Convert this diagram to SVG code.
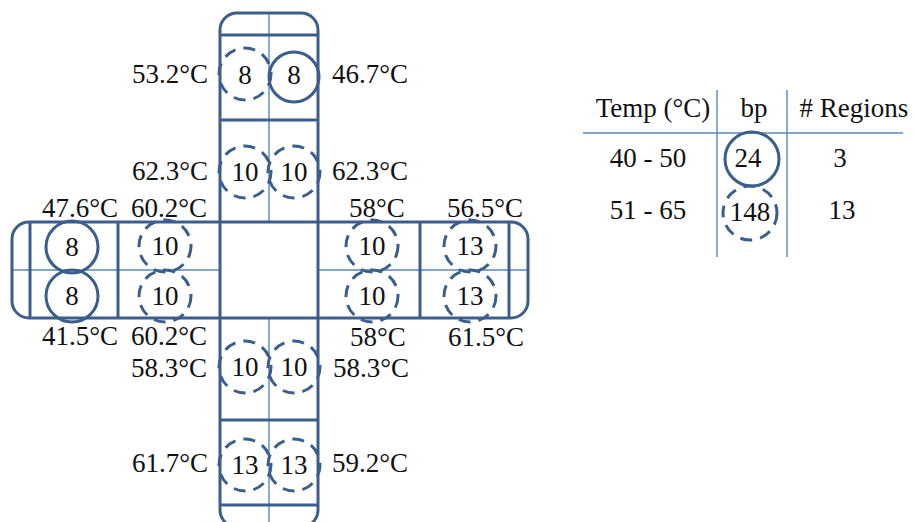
<svg xmlns="http://www.w3.org/2000/svg" width="914" height="522" viewBox="0 0 914 522">
<style>
text{font-family:'Liberation Serif','DejaVu Serif',serif;font-size:27px;fill:#111}
.m{text-anchor:middle}
.e{text-anchor:end}
.frame{fill:none;stroke:#3b5e8c;stroke-width:3}
.thin{fill:none;stroke:#5b86c0;stroke-width:1.4}
.sol{fill:none;stroke:#3b5e8c;stroke-width:3}
.dash{fill:none;stroke:#3b5e8c;stroke-width:3;stroke-dasharray:12 8}
</style>
<rect width="914" height="522" fill="#fff"/>
<g id="cross">
<line class="thin" x1="269" y1="13" x2="269" y2="221"/>
<line class="thin" x1="269" y1="319" x2="269" y2="527"/>
<line class="thin" x1="12" y1="270" x2="220" y2="270"/>
<line class="thin" x1="318" y1="270" x2="528" y2="270"/>
<rect class="frame" x="220" y="13" width="98" height="514" rx="17"/>
<rect class="frame" x="12" y="222" width="516" height="96" rx="17"/>
<line class="frame" x1="220" y1="35" x2="318" y2="35"/>
<line class="frame" x1="220" y1="120" x2="318" y2="120"/>
<line class="frame" x1="220" y1="420" x2="318" y2="420"/>
<line class="frame" x1="220" y1="505" x2="318" y2="505"/>
<line class="frame" x1="30" y1="222" x2="30" y2="318"/>
<line class="frame" x1="118" y1="222" x2="118" y2="318"/>
<line class="frame" x1="420" y1="222" x2="420" y2="318"/>
<line class="frame" x1="509" y1="222" x2="509" y2="318"/>
</g>
<g id="top1"><circle class="dash" cx="245" cy="74" r="26"/><text class="m" x="245" y="84">8</text></g>
<g id="top2"><circle class="sol" cx="294" cy="77" r="25"/><text class="m" x="294" y="84">8</text></g>
<g id="top3"><circle class="dash" cx="245" cy="172" r="26"/><text class="m" x="245" y="181">10</text></g>
<g id="top4"><circle class="dash" cx="294" cy="172" r="26"/><text class="m" x="294" y="181">10</text></g>
<g id="left1"><circle class="sol" cx="72" cy="247" r="26"/><text class="m" x="72" y="256">8</text></g>
<g id="left2"><circle class="sol" cx="72" cy="296" r="26"/><text class="m" x="72" y="305">8</text></g>
<g id="left3"><circle class="dash" cx="165" cy="246" r="26"/><text class="m" x="165" y="255">10</text></g>
<g id="left4"><circle class="dash" cx="165" cy="296" r="26"/><text class="m" x="165" y="305">10</text></g>
<g id="right1"><circle class="dash" cx="372" cy="246" r="26"/><text class="m" x="372" y="255">10</text></g>
<g id="right2"><circle class="dash" cx="372" cy="296" r="26"/><text class="m" x="372" y="305">10</text></g>
<g id="right3"><circle class="dash" cx="470" cy="246" r="26"/><text class="m" x="470" y="255">13</text></g>
<g id="right4"><circle class="dash" cx="470" cy="296" r="26"/><text class="m" x="470" y="305">13</text></g>
<g id="bot1"><circle class="dash" cx="245" cy="367" r="26"/><text class="m" x="245" y="376">10</text></g>
<g id="bot2"><circle class="dash" cx="294" cy="367" r="26"/><text class="m" x="294" y="376">10</text></g>
<g id="bot3"><circle class="dash" cx="245" cy="465" r="26"/><text class="m" x="245" y="474">13</text></g>
<g id="bot4"><circle class="dash" cx="294" cy="465" r="26"/><text class="m" x="294" y="474">13</text></g>
<g id="labels">
<text class="e" x="208" y="83">53.2°C</text>
<text x="332" y="83">46.7°C</text>
<text class="e" x="208" y="180">62.3°C</text>
<text x="332" y="180">62.3°C</text>
<text class="e" x="118" y="217">47.6°C</text>
<text class="e" x="207" y="217">60.2°C</text>
<text class="e" x="118" y="345">41.5°C</text>
<text class="e" x="207" y="345">60.2°C</text>
<text class="e" x="207" y="377">58.3°C</text>
<text x="349" y="217">58°C</text>
<text x="447" y="217">56.5°C</text>
<text x="350" y="346">58°C</text>
<text x="448" y="346">61.5°C</text>
<text x="333" y="377">58.3°C</text>
<text class="e" x="208" y="472">61.7°C</text>
<text x="332" y="472">59.2°C</text>
</g>
<g id="table">
<line class="thin" x1="583" y1="133" x2="903" y2="133"/>
<line class="thin" x1="717" y1="90" x2="717" y2="257"/>
<line class="thin" x1="787" y1="90" x2="787" y2="257"/>
<text class="m" x="653" y="117">Temp (°C)</text>
<text class="m" x="754" y="117">bp</text>
<text class="m" x="854" y="117"># Regions</text>
<text class="m" x="648" y="167">40 - 50</text>
<text class="m" x="648" y="219">51 - 65</text>
<text class="m" x="840" y="167">3</text>
<text class="m" x="842" y="219">13</text>
<g id="bp24"><circle class="sol" cx="752" cy="159" r="27"/><text class="m" x="748" y="167">24</text></g>
<g id="bp148"><circle class="dash" cx="750" cy="213" r="27"/><text class="m" x="750" y="221">148</text></g>
</g>
</svg>
